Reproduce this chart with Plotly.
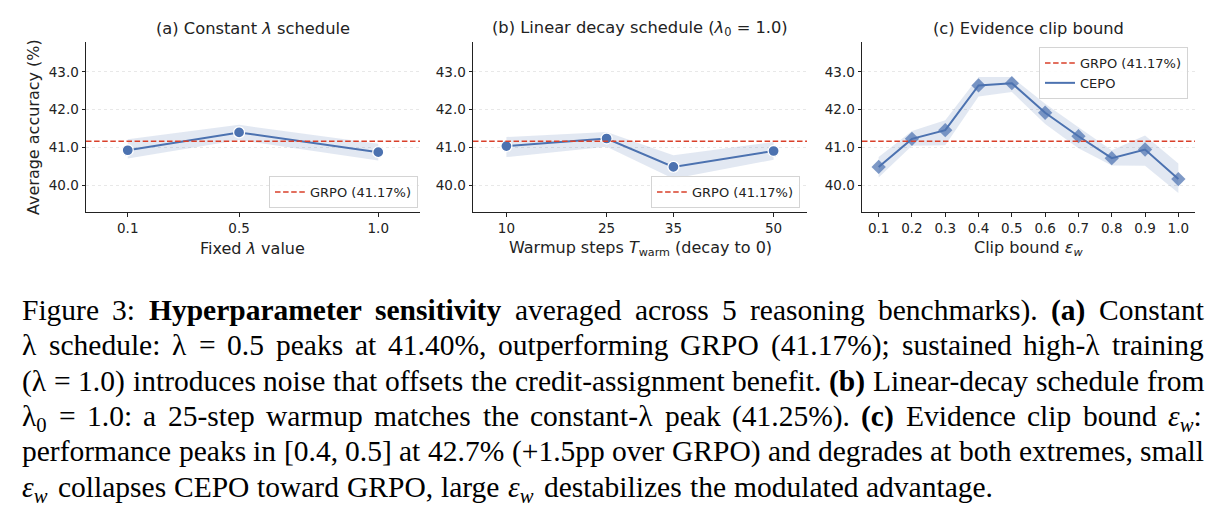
import re
import plotly.graph_objects as go
from plotly.subplots import make_subplots

# ---------------- data ----------------
grpo_acc = 41.17
grpo_name = "GRPO (41.17%)"

a_lambda = [0.1, 0.5, 1.0]
a_acc = [40.93, 41.40, 40.88]
a_low = [40.71, 41.20, 40.66]
a_high = [41.22, 41.60, 41.10]

b_warm = [10, 25, 35, 50]
b_acc = [41.04, 41.24, 40.49, 40.91]
b_low = [40.75, 41.02, 40.18, 40.68]
b_high = [41.28, 41.41, 40.80, 41.15]

c_clip = [0.1, 0.2, 0.3, 0.4, 0.5, 0.6, 0.7, 0.8, 0.9, 1.0]
c_acc = [40.49, 41.23, 41.46, 42.64, 42.70, 41.92, 41.30, 40.72, 40.95, 40.17]
c_low = [40.21, 41.05, 41.06, 42.35, 42.47, 41.62, 40.98, 40.53, 40.52, 39.80]
c_high = [40.75, 41.44, 41.72, 42.86, 42.86, 42.16, 41.54, 40.93, 41.32, 40.58]

y_ticks = [40.0, 41.0, 42.0, 43.0]
a_ticks = [0.1, 0.5, 1.0]
b_ticks = [10, 25, 35, 50]
c_ticks = c_clip

titles = ["(a) Constant <i>λ</i> schedule",
          "(b) Linear decay schedule (<i>λ</i><sub>0</sub> = 1.0)",
          "(c) Evidence clip bound"]
xlabels = ["Fixed <i>λ</i> value",
           "Warmup steps <i>T</i><sub>warm</sub> (decay to 0)",
           "Clip bound <i>ε<sub>w</sub></i>"]
ylabel = "Average accuracy (%)"

caption_lines = [
    ["Figure", "3:", "<b>Hyperparameter</b>", "<b>sensitivity</b>", "averaged", "across", "5",
     "reasoning", "benchmarks).", "<b>(a)</b>", "Constant"],
    ["λ", "schedule:", "λ", "=", "0.5", "peaks", "at", "41.40%,", "outperforming", "GRPO",
     "(41.17%);", "sustained", "high-λ", "training"],
    ["(λ", "=", "1.0)", "introduces", "noise", "that", "offsets", "the", "credit-assignment",
     "benefit.", "<b>(b)</b>", "Linear-decay", "schedule", "from"],
    ["λ<sub>0</sub>", "=", "1.0:", "a", "25-step", "warmup", "matches", "the", "constant-λ",
     "peak", "(41.25%).", "<b>(c)</b>", "Evidence", "clip", "bound", "<i>ε<sub>w</sub></i>:"],
    ["performance", "peaks", "in", "[0.4,", "0.5]", "at", "42.7%", "(+1.5pp", "over", "GRPO)",
     "and", "degrades", "at", "both", "extremes,", "small"],
    ["<i>ε<sub>w</sub></i>", "collapses", "CEPO", "toward", "GRPO,", "large", "<i>ε<sub>w</sub></i>",
     "destabilizes", "the", "modulated", "advantage."],
]

# ---------------- style ----------------
W, H = 1224, 511
BLUE = "#4C72B0"
BAND = "rgba(76,114,176,0.16)"
RED = "#D9402A"
AX = "#222222"
SANS = "DejaVu Sans"
SERIF = "Liberation Serif, Times New Roman, Times, serif"

x_domains = [[86 / W, 420 / W], [473 / W, 807 / W], [862 / W, 1195 / W]]
y_domain = [1 - 212 / H, 1 - 41.5 / H]
x_ranges = [[-0.05, 1.15], [5, 55], [0.05, 1.05]]
y_range = [39.3, 43.8]

fig = make_subplots(rows=1, cols=3)

panels = [
    (a_lambda, a_acc, a_low, a_high, "circle", a_ticks, ["%.1f" % v for v in a_ticks]),
    (b_warm, b_acc, b_low, b_high, "circle", b_ticks, [str(v) for v in b_ticks]),
    (c_clip, c_acc, c_low, c_high, "diamond", c_ticks, ["%.1f" % v for v in c_ticks]),
]

legend_ids = ["legend", "legend2", "legend3"]

for i, (xs, ys, lo, hi, sym, tv, tt) in enumerate(panels):
    col = i + 1
    # CI band
    fig.add_trace(go.Scatter(x=xs, y=hi, mode="lines", line=dict(width=0, color=BAND),
                             showlegend=False, hoverinfo="skip"), row=1, col=col)
    fig.add_trace(go.Scatter(x=xs, y=lo, mode="lines", line=dict(width=0, color=BAND),
                             fill="tonexty", fillcolor=BAND, showlegend=False,
                             hoverinfo="skip"), row=1, col=col)
    # main line
    if sym == "circle":
        marker = dict(symbol="circle", size=11, color=BLUE, line=dict(color="white", width=1.3))
    else:
        marker = dict(symbol="diamond", size=11, color="rgba(76,114,176,0.72)", line=dict(width=0))
    fig.add_trace(go.Scatter(x=xs, y=ys, mode="lines+markers", line=dict(color=BLUE, width=2),
                             marker=marker, showlegend=False, name="CEPO"), row=1, col=col)
    # GRPO reference line
    fig.add_hline(y=grpo_acc, line=dict(color=RED, width=1.5, dash="5.5px,2.6px"), row=1, col=col)
    # legend proxies
    fig.add_trace(go.Scatter(x=[None], y=[None], mode="lines", name=grpo_name,
                             line=dict(color=RED, width=1.5, dash="5.5px,2.6px"),
                             legend=legend_ids[i], showlegend=True), row=1, col=col)
    if i == 2:
        fig.add_trace(go.Scatter(x=[None], y=[None], mode="lines", name="CEPO",
                                 line=dict(color=BLUE, width=2),
                                 legend=legend_ids[i], showlegend=True), row=1, col=col)

    xa = "xaxis" if i == 0 else "xaxis%d" % col
    ya = "yaxis" if i == 0 else "yaxis%d" % col
    fig.layout[xa].update(domain=x_domains[i], range=x_ranges[i], tickmode="array",
                          tickvals=tv, ticktext=tt, showline=True, linecolor=AX, linewidth=1,
                          ticks="outside", ticklen=3.5, tickwidth=1, tickcolor=AX,
                          showgrid=False, zeroline=False,
                          tickfont=dict(family=SANS, size=13.5, color=AX))
    fig.layout[ya].update(domain=y_domain, range=y_range, tickmode="array",
                          tickvals=y_ticks, ticktext=["%.1f" % v for v in y_ticks],
                          showline=True, linecolor=AX, linewidth=1,
                          ticks="outside", ticklen=3.5, tickwidth=1, tickcolor=AX,
                          showgrid=True, gridcolor="#e8e8e8", gridwidth=0.8, griddash="dot",
                          zeroline=False, tickfont=dict(family=SANS, size=13.5, color=AX))

    cx = (x_domains[i][0] + x_domains[i][1]) / 2
    fig.add_annotation(text=titles[i], x=cx, y=1 - 28 / H, xref="paper", yref="paper",
                       xanchor="center", yanchor="middle", showarrow=False,
                       font=dict(family=SANS, size=16.3, color=AX))
    fig.add_annotation(text=xlabels[i], x=cx, y=1 - 248 / H, xref="paper", yref="paper",
                       xanchor="center", yanchor="middle", showarrow=False,
                       font=dict(family=SANS, size=16, color=AX))

fig.add_annotation(text=ylabel, x=33 / W, y=1 - 127 / H, xref="paper", yref="paper",
                   xanchor="center", yanchor="middle", textangle=-90, showarrow=False,
                   font=dict(family=SANS, size=16, color=AX))

legend_style = dict(bgcolor="rgba(255,255,255,0.85)", bordercolor="#d4d4d4", borderwidth=1,
                    font=dict(family=SANS, size=13, color=AX), itemwidth=30,
                    tracegroupgap=0, xref="paper", yref="paper")
fig.update_layout(
    legend=dict(x=418 / W, y=1 - 208 / H, xanchor="right", yanchor="bottom", **legend_style),
    legend2=dict(x=800 / W, y=1 - 208 / H, xanchor="right", yanchor="bottom", **legend_style),
    legend3=dict(x=1188 / W, y=1 - 47 / H, xanchor="right", yanchor="top", **legend_style),
)

# ---------------- caption (justified, Times metrics) ----------------
ROMAN = {" ": 250, "%": 833, "(": 333, ")": 333, "+": 564, ",": 250, "-": 333, ".": 250,
         ":": 278, ";": 278, "=": 564, "[": 333, "]": 333,
         "A": 722, "B": 667, "C": 667, "D": 722, "E": 611, "F": 556, "G": 722, "H": 722,
         "I": 333, "L": 611, "O": 722, "P": 556, "R": 667, "S": 556, "T": 611,
         "a": 444, "b": 500, "c": 444, "d": 500, "e": 444, "f": 333, "g": 500, "h": 500,
         "i": 278, "j": 278, "k": 500, "l": 278, "m": 778, "n": 500, "o": 500, "p": 500,
         "q": 500, "r": 333, "s": 389, "t": 278, "u": 500, "v": 500, "w": 722, "x": 500,
         "y": 500, "z": 444, "λ": 500, "ε": 440}
BOLD = {"H": 778, "y": 500, "p": 556, "e": 444, "r": 444, "a": 500, "m": 833, "t": 333,
        "s": 389, "n": 556, "i": 278, "v": 500, "(": 333, ")": 333, "b": 556, "c": 444}


def word_em(word):
    bold = False
    sub = False
    total = 0.0
    for part in re.split(r"(<[^>]+>)", word):
        if part.startswith("<"):
            tag = part.strip("<>/")
            closing = part.startswith("</")
            if tag == "b":
                bold = not closing
            elif tag == "sub":
                sub = not closing
            continue
        for ch in part:
            w = (BOLD.get(ch) if bold else None) or ROMAN.get(ch, 500 if ch.isdigit() else 480)
            total += w / 1000.0 * (0.7 if sub else 1.0)
    return total


FS = 29.5
LEFT, RIGHT = 21, 1203
BASE0, PITCH = 318, 35.4
for li, words in enumerate(caption_lines):
    widths = [word_em(w) * FS for w in words]
    if li == len(caption_lines) - 1:
        gap = 0.27 * FS
    else:
        gap = (RIGHT - LEFT - sum(widths)) / (len(words) - 1)
    top = BASE0 + li * PITCH - 0.891 * FS
    xpos = LEFT
    for w, wd in zip(words, widths):
        fig.add_annotation(text=w, x=(xpos - 1) / W, y=1 - top / H, xref="paper", yref="paper",
                           xanchor="left", yanchor="top", showarrow=False,
                           font=dict(family=SERIF, size=FS, color="#000000"))
        xpos += wd + gap

fig.update_layout(width=W, height=H, margin=dict(l=0, r=0, t=0, b=0),
                  paper_bgcolor="white", plot_bgcolor="white")

fig.write_html("out.html")
